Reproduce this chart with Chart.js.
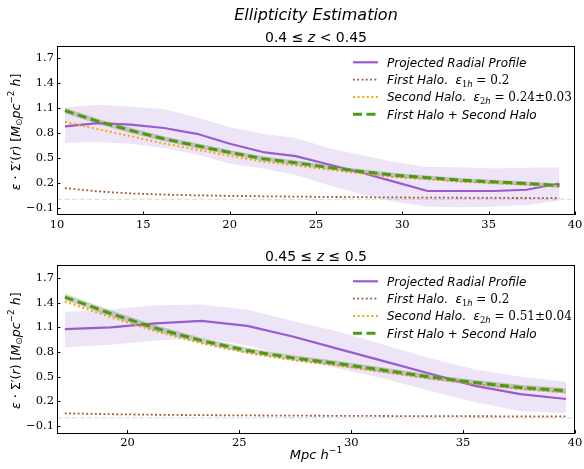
<!DOCTYPE html>
<html>
<head>
<meta charset="utf-8">
<script src="https://cdn.jsdelivr.net/npm/chart.js@4.4.1/dist/chart.umd.min.js"></script>
<style>
  html, body { margin: 0; padding: 0; background: #fff; }
  #wrap { position: relative; width: 584px; height: 469px; overflow: hidden; }
  canvas { position: absolute; left: 0; }
</style>
</head>
<body>
<div id="wrap">
  <canvas id="lowZChart" width="584" height="232" style="top:0px"></canvas>
  <canvas id="highZChart" width="584" height="237" style="top:232px"></canvas>
</div>
<script>
// 0.4 <= z < 0.45 bin
const radiusLowZ = [10.46, 12.37, 14.28, 16.19, 18.10, 20.01, 21.92, 23.83, 25.74, 27.65, 29.56, 31.46, 33.37, 35.28, 37.19, 39.10];
const profileLowZ = [0.88, 0.92, 0.90, 0.86, 0.79, 0.67, 0.57, 0.52, 0.42, 0.32, 0.21, 0.10, 0.10, 0.10, 0.115, 0.19];
const profileHiLowZ = [1.11, 1.14, 1.12, 1.09, 0.99, 0.87, 0.79, 0.74, 0.62, 0.53, 0.45, 0.39, 0.385, 0.37, 0.38, 0.385];
const profileLoLowZ = [0.68, 0.69, 0.67, 0.62, 0.54, 0.43, 0.37, 0.29, 0.17, 0.06, -0.03, -0.09, -0.095, -0.09, -0.07, -0.02];
const firstHaloLowZ = [0.135, 0.095, 0.07, 0.056, 0.047, 0.041, 0.036, 0.032, 0.028, 0.025, 0.022, 0.02, 0.018, 0.016, 0.015, 0.014];
const secondHaloLowZ = [0.935, 0.845, 0.76, 0.674, 0.598, 0.524, 0.454, 0.408, 0.357, 0.31, 0.268, 0.24, 0.212, 0.194, 0.175, 0.151];
const totalLowZ = [1.07, 0.94, 0.83, 0.73, 0.645, 0.565, 0.49, 0.44, 0.385, 0.335, 0.29, 0.26, 0.23, 0.21, 0.19, 0.165];
const totalErrLowZ = [0.035, 0.033, 0.032, 0.03, 0.03, 0.029, 0.028, 0.028, 0.027, 0.027, 0.026, 0.026, 0.026, 0.025, 0.025, 0.025];

// 0.45 <= z <= 0.5 bin
const radiusHighZ = [17.20, 19.24, 21.27, 23.31, 25.35, 27.38, 29.42, 31.45, 33.49, 35.53, 37.56, 39.60];
const profileHighZ = [1.08, 1.10, 1.15, 1.18, 1.12, 0.99, 0.84, 0.69, 0.54, 0.39, 0.29, 0.23];
const profileHiHighZ = [1.29, 1.32, 1.37, 1.38, 1.32, 1.18, 1.05, 0.89, 0.73, 0.59, 0.50, 0.44];
const profileLoHighZ = [0.86, 0.89, 0.94, 0.97, 0.88, 0.74, 0.60, 0.48, 0.33, 0.19, 0.08, 0.06];
const firstHaloHighZ = [0.055, 0.045, 0.038, 0.033, 0.03, 0.027, 0.025, 0.023, 0.021, 0.02, 0.019, 0.018];
const secondHaloHighZ = [1.415, 1.225, 1.052, 0.907, 0.79, 0.703, 0.635, 0.557, 0.479, 0.41, 0.351, 0.312];
const totalHighZ = [1.47, 1.27, 1.09, 0.94, 0.82, 0.73, 0.66, 0.58, 0.50, 0.43, 0.37, 0.33];
const totalErrHighZ = [0.04, 0.038, 0.036, 0.035, 0.034, 0.033, 0.033, 0.032, 0.032, 0.032, 0.032, 0.032];

// axis ticks
const yTickValues = [-0.1, 0.2, 0.5, 0.8, 1.1, 1.4, 1.7];
const yTickLabels = ['\u22120.1', '0.2', '0.5', '0.8', '1.1', '1.4', '1.7'];
const xTickValuesLowZ = [10, 15, 20, 25, 30, 35, 40];
const xTickValuesHighZ = [20, 25, 30, 35, 40];

const SANS = '"DejaVu Sans", sans-serif';
const SERIF = '"DejaVu Serif", serif';

const PURPLE = '#9a5bd0';
const BROWN = '#a0522d';
const ORANGE = '#ffa500';
const GREEN = '#4a9b10';

// text pieces are [string, style]; style words: i (italic), s (serif), sub, sup
function segFont(style, size) {
    const parts = style.split(' ');
    const small = parts.includes('sub') || parts.includes('sup');
    const px = small ? size * 0.7 : size;
    return (parts.includes('i') ? 'italic ' : '') + px + 'px ' + (parts.includes('s') ? SERIF : SANS);
}

function drawRich(ctx, segs, x, y, size, align) {
    let width = 0;
    segs.forEach(seg => {
        ctx.font = segFont(seg[1], size);
        width += ctx.measureText(seg[0]).width;
    });
    let cx = x;
    if (align === 'center') cx = x - width / 2;
    if (align === 'right') cx = x - width;
    ctx.textAlign = 'left';
    ctx.textBaseline = 'alphabetic';
    segs.forEach(seg => {
        const parts = seg[1].split(' ');
        ctx.font = segFont(seg[1], size);
        let dy = 0;
        if (parts.includes('sub')) dy = size * 0.22;
        if (parts.includes('sup')) dy = -size * 0.42;
        ctx.fillText(seg[0], cx, y + dy);
        cx += ctx.measureText(seg[0]).width;
    });
}

const yLabel = [['\u03b5', 'i'], [' \u00b7 ', ''], ['\u03a3\u2032(', ''], ['r', 'i'], [') [', ''], ['M', 'i'],
    ['\u2299', 'sub'], ['pc', 'i'], ['\u22122', 'sup'], [' h', 'i'], [']', '']];
const xLabel = [['Mpc h', 'i'], ['\u22121', 'sup']];

function legendItems(eps2h) {
    return [
        { dataset: 5, segs: [['Projected Radial Profile', 'i']] },
        { dataset: 4, segs: [['First Halo', 'i'], ['.  ', ''], ['\u03b5', 'i'], ['1', 's sub'], ['h', 'i sub'], [' = 0.2', 's']] },
        { dataset: 3, segs: [['Second Halo', 'i'], ['.  ', ''], ['\u03b5', 'i'], ['2', 's sub'], ['h', 'i sub'], [' = ' + eps2h, 's']] },
        { dataset: 0, segs: [['First Halo + Second Halo', 'i']] }
    ];
}

// frame, inward ticks, titles, axis labels and legend
const figureText = {
    id: 'figureText',
    afterDraw(chart, args, opts) {
        const ctx = chart.ctx;
        const area = chart.chartArea;
        const xs = chart.scales.x;
        const ys = chart.scales.y;
        ctx.save();
        ctx.strokeStyle = '#000';
        ctx.lineWidth = 1;
        ctx.setLineDash([]);
        ys.ticks.forEach(t => {
            const py = Math.round(ys.getPixelForValue(t.value)) + 0.5;
            ctx.beginPath();
            ctx.moveTo(area.left, py);
            ctx.lineTo(area.left + 3.5, py);
            ctx.stroke();
        });
        xs.ticks.forEach(t => {
            const px = Math.round(xs.getPixelForValue(t.value)) + 0.5;
            ctx.beginPath();
            ctx.moveTo(px, area.bottom);
            ctx.lineTo(px, area.bottom - 3.5);
            ctx.stroke();
        });
        ctx.strokeRect(Math.round(area.left) + 0.5, Math.round(area.top) + 0.5,
            Math.round(area.width) - 1, Math.round(area.height) - 1);

        ctx.fillStyle = '#000';
        const midX = (area.left + area.right) / 2;
        if (opts.suptitle) {
            drawRich(ctx, opts.suptitle, midX, 19.5, 16, 'center');
        }
        drawRich(ctx, opts.title, midX, area.top - 4.5, 14, 'center');
        if (opts.xlabel) {
            drawRich(ctx, opts.xlabel, midX, area.bottom + 25, 13, 'center');
        }
        ctx.save();
        ctx.translate(19.5, (area.top + area.bottom) / 2 + 1.5);
        ctx.rotate(-Math.PI / 2);
        drawRich(ctx, yLabel, 0, 0, 12.6, 'center');
        ctx.restore();

        opts.legend.forEach((item, k) => {
            const ds = chart.data.datasets[item.dataset];
            const rowY = area.top + 16.3 + k * 17.3;
            ctx.strokeStyle = ds.borderColor;
            ctx.lineWidth = ds.borderWidth;
            ctx.setLineDash(ds.borderDash || []);
            ctx.beginPath();
            ctx.moveTo(area.left + 296, rowY);
            ctx.lineTo(area.left + 321, rowY);
            ctx.stroke();
            ctx.setLineDash([]);
            drawRich(ctx, item.segs, area.left + 330, rowY + 4.3, 12, 'left');
        });
        ctx.restore();
    }
};

function pts(xs, ys) {
    return xs.map((x, i) => ({ x: x, y: ys[i] }));
}

function makeChart(canvasId, p) {
    const line = (data, color, width, dash, fill, bg) => ({
        data: data,
        borderColor: color,
        borderWidth: width,
        borderDash: dash,
        backgroundColor: bg || 'transparent',
        fill: fill,
        pointRadius: 0,
        tension: 0,
        borderJoinStyle: 'round'
    });
    const hi = p.total.map((v, i) => v + p.totalErr[i]);
    const lo = p.total.map((v, i) => v - p.totalErr[i]);
    const datasets = [
        line(pts(p.radius, p.total), GREEN, 3, [9, 4.5], false),
        line(pts(p.radius, hi), 'transparent', 1, [], '+1', 'rgba(140, 140, 120, 0.42)'),
        line(pts(p.radius, lo), 'transparent', 1, [], false),
        line(pts(p.radius, p.second), ORANGE, 2, [2, 2.6], false),
        line(pts(p.radius, p.first), BROWN, 1.8, [1.8, 2.5], false),
        line(pts(p.radius, p.profile), PURPLE, 2.2, [], false),
        line(pts(p.radius, p.profileHi), 'transparent', 1, [], '+1', 'rgba(150, 100, 205, 0.17)'),
        line(pts(p.radius, p.profileLo), 'transparent', 1, [], false),
        line(pts([p.xMin, p.xMax], [0, 0]), 'rgba(185, 175, 150, 0.55)', 0.9, [5, 2.5], false)
    ];
    const tickFont = { family: SERIF, size: 11.5 };
    return new Chart(document.getElementById(canvasId), {
        type: 'line',
        data: { datasets: datasets },
        plugins: [figureText],
        options: {
            responsive: false,
            animation: false,
            devicePixelRatio: 1,
            layout: { padding: { top: p.padTop, right: 9, left: 0, bottom: 0 } },
            plugins: {
                legend: { display: false },
                tooltip: { enabled: false },
                figureText: {
                    suptitle: p.suptitle,
                    title: p.title,
                    xlabel: p.xlabel,
                    legend: p.legend
                }
            },
            scales: {
                x: {
                    type: 'linear',
                    min: p.xMin,
                    max: p.xMax,
                    grid: { display: false, drawTicks: false },
                    border: { display: false },
                    afterBuildTicks: s => { s.ticks = p.xTicks.map(v => ({ value: v })); },
                    afterFit: s => { s.height = p.xAxisHeight; s.paddingLeft = 0; s.paddingRight = 0; },
                    ticks: {
                        font: tickFont,
                        color: '#000',
                        padding: 3,
                        maxRotation: 0,
                        autoSkip: false,
                        callback: v => String(v)
                    }
                },
                y: {
                    type: 'linear',
                    min: p.yMin,
                    max: p.yMax,
                    grid: { display: false, drawTicks: false },
                    border: { display: false },
                    afterBuildTicks: s => { s.ticks = yTickValues.map(v => ({ value: v })); },
                    afterFit: s => { s.width = 57; s.paddingTop = 0; s.paddingBottom = 0; },
                    ticks: {
                        font: tickFont,
                        color: '#000',
                        padding: 3,
                        autoSkip: false,
                        callback: v => yTickLabels[yTickValues.findIndex(t => Math.abs(t - v) < 1e-6)]
                    }
                }
            }
        }
    });
}

makeChart('lowZChart', {
    radius: radiusLowZ, profile: profileLowZ, profileHi: profileHiLowZ, profileLo: profileLoLowZ,
    first: firstHaloLowZ, second: secondHaloLowZ, total: totalLowZ, totalErr: totalErrLowZ,
    xMin: 10, xMax: 40, yMin: -0.19, yMax: 1.85, xTicks: xTickValuesLowZ,
    padTop: 46, xAxisHeight: 17,
    suptitle: [['Ellipticity Estimation', 'i']],
    title: [['0.4 \u2264 ', ''], ['z', 'i'], [' < 0.45', '']],
    legend: legendItems('0.24\u00b10.03')
});

makeChart('highZChart', {
    radius: radiusHighZ, profile: profileHighZ, profileHi: profileHiHighZ, profileLo: profileLoHighZ,
    first: firstHaloHighZ, second: secondHaloHighZ, total: totalHighZ, totalErr: totalErrHighZ,
    xMin: 16.85, xMax: 40, yMin: -0.19, yMax: 1.86, xTicks: xTickValuesHighZ,
    padTop: 33, xAxisHeight: 35.5,
    title: [['0.45 \u2264 ', ''], ['z', 'i'], [' \u2264 0.5', '']],
    xlabel: xLabel,
    legend: legendItems('0.51\u00b10.04')
});
</script>
</body>
</html>
